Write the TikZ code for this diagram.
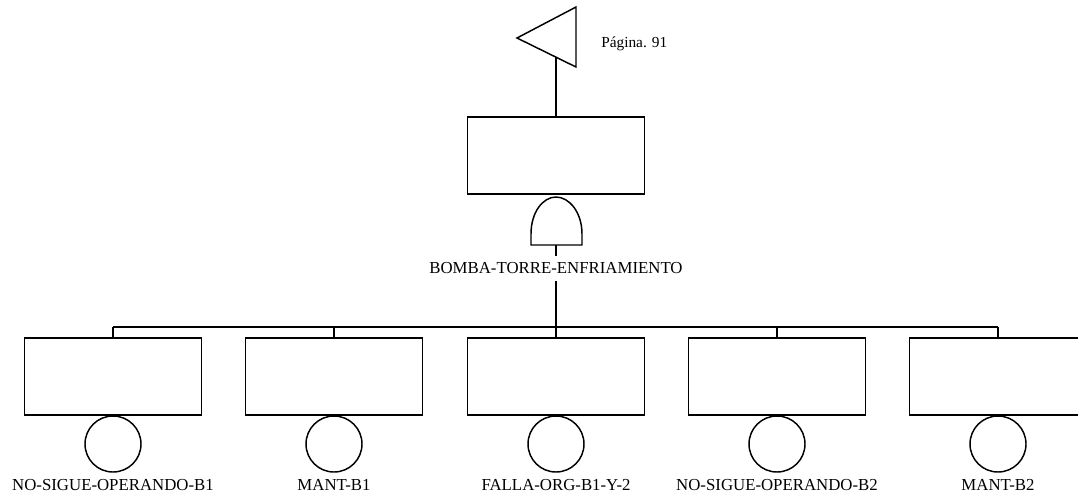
\documentclass[tikz,border=0pt]{standalone}
\usepackage{fontspec}
\setmainfont{Liberation Serif}
\begin{document}
\begin{tikzpicture}[x=0.75pt,y=-0.75pt,
  ln/.style={line width=1.1pt},
  evbox/.style={draw,ln,rectangle,minimum width=132.75pt,minimum height=57.75pt,inner sep=0pt},
  basic/.style={draw,ln,circle,minimum size=42pt,inner sep=0pt},
  lbl/.style={font=\fontsize{12.6pt}{14pt}\selectfont,inner sep=0pt,anchor=base}]
\useasboundingbox (0,0) rectangle (1078,497);
% transfer triangle
\draw[ln] (517,38) -- (576,7) -- (576,67) -- cycle;
\node[font=\fontsize{11.5pt}{13pt}\selectfont,inner sep=0pt,anchor=west] (pg) at (601,44) {Página. 91};
\coordinate (tri) at (556,57);
% top event
\node[evbox] (top) at (556,155.5) {};
\draw[ln] (tri) -- (top.north);
% AND gate
\coordinate (gtop) at (556,194);
\coordinate (gbot) at (556,245);
\draw[ln] (531,245) -- (531,234) .. controls (531,212) and (543,197) .. (556,197)
  .. controls (569,197) and (582,212) .. (582,234) -- (582,245) -- cycle;
\node[lbl] (gname) at (556,273) {BOMBA-TORRE-ENFRIAMIENTO};
\coordinate (bus) at (556,327);
\draw[ln] (gbot) -- (556,256);
\draw[ln] (556,281) -- (bus);
% children
\foreach \i/\x/\t in {1/113/NO-SIGUE-OPERANDO-B1,2/334/MANT-B1,3/556/FALLA-ORG-B1-Y-2,4/777/NO-SIGUE-OPERANDO-B2,5/998/MANT-B2}{
  \node[evbox] (b\i) at (\x,376.5) {};
  \node[basic] (c\i) at (\x,444) {};
  \node[lbl] (t\i) at (\x,490) {\t};
  \draw[ln] (\x,327) -- (b\i.north);
}
\draw[ln] (113,327) -- (998,327);
\end{tikzpicture}
\end{document}
